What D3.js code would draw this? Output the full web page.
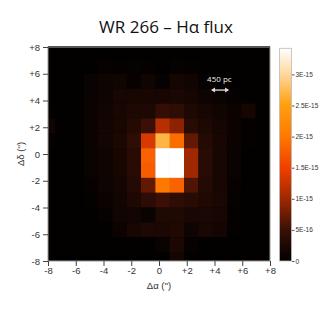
<!DOCTYPE html>
<html>
<head>
<meta charset="utf-8">
<script src="https://cdn.jsdelivr.net/npm/d3@7"></script>
<style>
  body { margin: 0; background: #fff; }
  text { font-family: "Liberation Sans", Arial, sans-serif; }
</style>
</head>
<body>
<div id="chart"></div>
<script>
// H-alpha flux per spaxel, units of 1E-16, rows top (north) to bottom, cols left to right
const flux = [
  [0.2,0.2,0.2,0.2,0.3,0.2,0.2,0.2,0.2,0.2,0.2,0.2,0.2,0.2,0.2,0.2],
  [0.2,0.2,0.2,0.3,0.6,0.4,0.5,0.4,0.3,0.5,0.4,0.2,0.2,0.2,0.2,0.2],
  [0.2,0.2,0.2,0.8,1.2,1.5,0.6,1.5,0.5,1.8,1.5,0.5,0.3,0.2,0.2,0.2],
  [0.3,0.2,0.3,0.8,1.2,2.0,2.0,2.0,2.0,2.2,1.8,1.2,0.9,0.5,0.3,0.2],
  [0.4,0.3,0.3,0.9,1.5,2.0,2.5,2.6,4.5,4.0,2.5,2.0,1.5,1.0,1.8,0.3],
  [1.5,0.3,0.3,0.9,1.6,2.0,3.2,5.0,11.5,9.0,3.5,2.5,1.8,1.0,0.4,0.3],
  [0.5,0.3,0.3,0.9,1.6,2.3,4.0,13.5,27,19,7,3.2,2.0,1.0,0.4,0.3],
  [0.3,0.3,0.3,0.8,1.3,2.0,3.5,18,36,38,10,3.5,2.0,0.8,0.3,0.2],
  [0.3,0.3,0.3,0.8,1.3,2.0,3.5,17.5,37,36,10,3.5,2.0,0.8,0.3,0.2],
  [0.2,0.2,0.3,0.6,1.2,1.6,3.0,7.0,20,18,6.0,3.0,2.0,0.6,0.3,0.2],
  [0.2,0.2,0.2,0.4,1.0,1.6,2.5,3.8,5.0,4.0,3.5,2.8,2.2,0.5,0.2,0.2],
  [0.2,0.2,0.2,0.3,0.6,1.5,1.6,0.8,2.8,2.8,2.2,2.3,2.0,0.4,0.2,0.2],
  [0.2,0.2,0.2,0.2,0.3,1.0,2.0,2.5,2.3,2.8,1.2,2.2,1.7,0.4,0.2,0.2],
  [0.2,0.2,0.2,0.2,0.2,0.3,0.3,0.3,0.8,2.3,0.6,0.3,0.2,0.2,0.2,0.2],
  [0.2,0.2,0.2,0.2,0.2,0.2,0.2,0.2,0.3,1.8,0.3,0.2,0.2,0.2,0.2,0.2]
];
const fluxUnit = 1e-16;

const axisTicks = [-8,-6,-4,-2,0,2,4,6,8];
const minorTicks = d3.range(-8, 9, 1);
const cbarTicks = [0, 5e-16, 1e-15, 1.5e-15, 2e-15, 2.5e-15, 3e-15];
const cbarLabels = ["0","5E-16","1E-15","1.5E-15","2E-15","2.5E-15","3E-15"];
const vmax = 3.42e-15;

// hot-metal style colormap
const cmapPos = [0, 0.147, 0.294, 0.44, 0.588, 0.735, 0.882, 1];
const cmapCol = ["#000000","#3a1006","#a02800","#f04000","#ff7a00","#ffa010","#ffd8a0","#ffffff"];

const title = "WR 266 \u2013 H\u03b1 flux";
const scaleLabel = "450 pc";

const W = 327, H = 327;
const svg = d3.select("#chart").append("svg")
  .attr("width", W).attr("height", H);

const x = d3.scaleLinear().domain([-8, 8]).range([48, 270]);
const y = d3.scaleLinear().domain([-8, 8]).range([261, 47]);

const color = d3.scaleLinear()
  .domain(cmapPos.map(p => p * vmax))
  .range(cmapCol)
  .clamp(true);

// spaxel grid (arcsec)
const cellW = 1.033, cellH = 1.11, gridTop = 8.21, gridRight = 8;
const nCols = flux[0].length;

svg.append("clipPath").attr("id", "clip")
  .append("rect")
    .attr("x", x(-8)).attr("y", y(8))
    .attr("width", x(8) - x(-8)).attr("height", y(-8) - y(8));

const cells = [];
flux.forEach((row, r) => row.forEach((v, c) => cells.push({r, c, v: v * fluxUnit})));

svg.append("rect")
  .attr("x", x(-8)).attr("y", y(8))
  .attr("width", x(8) - x(-8)).attr("height", y(-8) - y(8))
  .attr("fill", "#000");

svg.append("g").attr("clip-path", "url(#clip)")
  .selectAll("rect")
  .data(cells)
  .join("rect")
    .attr("x", d => x(gridRight - cellW * (nCols - d.c)))
    .attr("y", d => y(gridTop - cellH * d.r))
    .attr("width", x(cellW) - x(0) + 0.3)
    .attr("height", y(0) - y(cellH) + 0.3)
    .attr("fill", d => color(d.v));

// frame
svg.append("rect")
  .attr("x", x(-8)).attr("y", y(8))
  .attr("width", x(8) - x(-8)).attr("height", y(-8) - y(8))
  .attr("fill", "none").attr("stroke", "#9a9a9a").attr("stroke-width", 1);
svg.append("line")
  .attr("x1", x(-8)).attr("x2", x(8)).attr("y1", y(8)).attr("y2", y(8))
  .attr("stroke", "#555").attr("stroke-width", 2);

const fmt = d => d > 0 ? "+" + d : String(d);

// axes
const gx = svg.append("g").attr("transform", `translate(0,${y(-8)})`);
gx.call(d3.axisBottom(x).tickValues(minorTicks).tickSize(3).tickFormat(""));
gx.call(d3.axisBottom(x).tickValues(axisTicks).tickSize(5).tickFormat(fmt));
gx.selectAll(".domain").remove();
gx.selectAll("line").attr("stroke", "#444");
gx.selectAll("text").attr("font-size", 9.5).attr("fill", "#333").attr("dy", "0.55em");

const gy = svg.append("g").attr("transform", `translate(${x(-8)},0)`);
gy.call(d3.axisLeft(y).tickValues(minorTicks).tickSize(3).tickFormat(""));
gy.call(d3.axisLeft(y).tickValues(axisTicks).tickSize(5).tickFormat(fmt));
gy.selectAll(".domain").remove();
gy.selectAll("line").attr("stroke", "#444");
gy.selectAll("text").attr("font-size", 9.5).attr("fill", "#333");

svg.append("text")
  .attr("x", x(0)).attr("y", 289)
  .attr("text-anchor", "middle").attr("font-size", 9.5).attr("fill", "#333")
  .text("\u0394\u03b1 ('')");

svg.append("text")
  .attr("transform", `translate(24,${y(0)}) rotate(-90)`)
  .attr("text-anchor", "middle").attr("font-size", 9.5).attr("fill", "#333")
  .text("\u0394\u03b4 ('')");

// title
svg.append("text")
  .attr("x", 166).attr("y", 33)
  .attr("text-anchor", "middle")
  .style("font-family", "'Open Sans', 'Noto Sans', sans-serif")
  .attr("font-size", 17).attr("fill", "#111")
  .text(title);

// scale bar
svg.append("text")
  .attr("x", x(4.35)).attr("y", y(5.4))
  .attr("text-anchor", "middle")
  .style("font-family", "'Open Sans', 'Noto Sans', sans-serif")
  .attr("font-size", 8).attr("fill", "#eee")
  .text(scaleLabel);
const arrowY = y(4.78), ax0 = x(3.75), ax1 = x(5.05);
svg.append("line")
  .attr("x1", ax0 + 1).attr("x2", ax1 - 1).attr("y1", arrowY).attr("y2", arrowY)
  .attr("stroke", "#ddd").attr("stroke-width", 1.3);
svg.append("path")
  .attr("d", `M${ax0},${arrowY} l4,-2.5 v5 Z M${ax1},${arrowY} l-4,-2.5 v5 Z`)
  .attr("fill", "#ddd");

// colorbar
const cb = d3.scaleLinear().domain([0, vmax]).range([261, 48.3]);
const defs = svg.append("defs");
const grad = defs.append("linearGradient").attr("id", "cbar")
  .attr("x1", 0).attr("x2", 0).attr("y1", 1).attr("y2", 0);
grad.selectAll("stop").data(cmapPos).join("stop")
  .attr("offset", d => d)
  .attr("stop-color", (d, i) => cmapCol[i]);

svg.append("rect")
  .attr("x", 279.5).attr("y", cb(vmax))
  .attr("width", 12).attr("height", cb(0) - cb(vmax))
  .attr("fill", "url(#cbar)")
  .attr("stroke", "#bbb").attr("stroke-width", 0.8);

const gc = svg.append("g").attr("transform", "translate(292,0)");
gc.call(d3.axisRight(cb).tickValues(cbarTicks).tickSize(2.5)
  .tickFormat((d, i) => cbarLabels[i]));
gc.selectAll(".domain").remove();
gc.selectAll("line").attr("stroke", "#555");
gc.selectAll("text").attr("font-size", 6.5).attr("fill", "#333").attr("x", 3.5);
</script>
</body>
</html>
